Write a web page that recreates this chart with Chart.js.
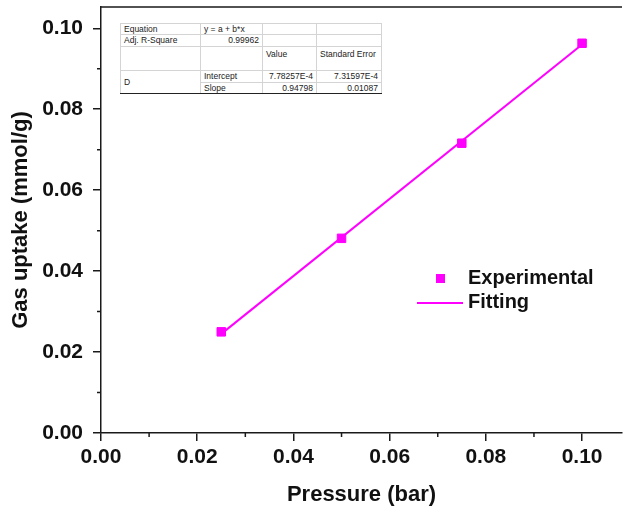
<!DOCTYPE html>
<html>
<head>
<meta charset="utf-8">
<script src="https://cdn.jsdelivr.net/npm/chart.js@4/dist/chart.umd.min.js"></script>
<style>
  html, body { margin: 0; padding: 0; background: #fff; }
  #wrap { position: relative; width: 624px; height: 514px; }
  #fit-table {
    position: absolute; left: 120px; top: 23px; width: 261px;
    table-layout: fixed; border-collapse: collapse;
    font-family: Arial, "Liberation Sans", sans-serif;
    font-size: 8.5px; color: #222; background: #fff;
  }
  #fit-table td {
    border: 1px solid #d4d4d4; padding: 0 3px; line-height: 10px;
    vertical-align: top; white-space: nowrap; overflow: visible;
  }
  #fit-table tr.last td { border-bottom: 1.5px solid #222; }
  #fit-table td.num { text-align: right; }
</style>
</head>
<body>
<div id="wrap">
  <canvas id="chart" width="624" height="514"></canvas>
  <table id="fit-table">
    <colgroup><col style="width:80px"><col style="width:62px"><col style="width:54px"><col style="width:65px"></colgroup>
    <tr style="height:11px"><td>Equation</td><td>y = a + b*x</td><td></td><td></td></tr>
    <tr style="height:12px"><td>Adj. R-Square</td><td class="num">0.99962</td><td></td><td></td></tr>
    <tr style="height:24px"><td></td><td></td><td style="padding-top:2px">Value</td><td style="padding-top:2px">Standard Error</td></tr>
    <tr style="height:12px"><td rowspan="2" style="vertical-align:middle;border-bottom:1.5px solid #222">D</td><td>Intercept</td><td class="num">7.78257E-4</td><td class="num">7.31597E-4</td></tr>
    <tr class="last" style="height:11px"><td>Slope</td><td class="num">0.94798</td><td class="num">0.01087</td></tr>
  </table>
</div>
<script>
// Values
const pressure = [0.025, 0.050, 0.075, 0.100];
const uptake = [0.0250, 0.0481, 0.0716, 0.0963];
const fitPressure = [0.025, 0.100];
const fitUptake = [0.0245, 0.0960];

const xTicks = [0, 0.02, 0.04, 0.06, 0.08, 0.10];
const yTicks = [0, 0.02, 0.04, 0.06, 0.08, 0.10];
const xMinor = [0.01, 0.03, 0.05, 0.07, 0.09];
const yMinor = [0.01, 0.03, 0.05, 0.07, 0.09];

const seriesNames = ['Experimental', 'Fitting'];
const magenta = '#ff00ff';
const axisColor = '#1a1a1a';
const fontFamily = 'Arial, "Liberation Sans", sans-serif';

// Minor ticks, top frame and the legend
const extras = {
    id: 'extras',
    afterDraw(chart) {
        const ctx = chart.ctx;
        const area = chart.chartArea;
        const xs = chart.scales.x;
        const ys = chart.scales.y;
        ctx.save();
        ctx.strokeStyle = axisColor;
        ctx.lineWidth = 1.5;
        ctx.beginPath();
        xMinor.forEach(v => {
            const px = xs.getPixelForValue(v);
            ctx.moveTo(px, area.bottom);
            ctx.lineTo(px, area.bottom + 4);
        });
        yMinor.forEach(v => {
            const py = ys.getPixelForValue(v);
            ctx.moveTo(area.left - 4, py);
            ctx.lineTo(area.left, py);
        });
        // top frame
        ctx.moveTo(area.left, area.top);
        ctx.lineTo(area.right, area.top);
        ctx.stroke();

        // legend
        ctx.fillStyle = magenta;
        ctx.fillRect(436, 274, 9, 9);
        ctx.strokeStyle = magenta;
        ctx.lineWidth = 2;
        ctx.beginPath();
        ctx.moveTo(417, 303);
        ctx.lineTo(463, 303);
        ctx.stroke();
        ctx.fillStyle = '#111';
        ctx.font = 'bold 20px ' + fontFamily;
        ctx.textBaseline = 'middle';
        ctx.fillText(seriesNames[0], 468, 278);
        ctx.fillText(seriesNames[1], 468, 302);
        ctx.restore();
    }
};

const tickFont = { family: fontFamily, size: 21, weight: 'bold' };
const titleFont = { family: fontFamily, size: 22, weight: 'bold' };

function noPad(s) {
    s.paddingTop = 0;
    s.paddingBottom = 0;
    s.paddingLeft = 0;
    s.paddingRight = 0;
}

new Chart(document.getElementById('chart'), {
    type: 'scatter',
    data: {
        datasets: [
            {
                label: seriesNames[0],
                data: pressure.map((p, i) => ({ x: p, y: uptake[i] })),
                backgroundColor: magenta,
                borderColor: magenta,
                pointStyle: 'rect',
                pointRadius: 6,
                order: 1
            },
            {
                label: seriesNames[1],
                data: fitPressure.map((p, i) => ({ x: p, y: fitUptake[i] })),
                borderColor: magenta,
                backgroundColor: magenta,
                showLine: true,
                borderWidth: 2,
                pointRadius: 0,
                order: 2
            }
        ]
    },
    options: {
        responsive: false,
        animation: false,
        layout: { autoPadding: false, padding: { top: 7, right: 2, left: 0, bottom: 0 } },
        plugins: {
            legend: { display: false },
            tooltip: { enabled: false }
        },
        scales: {
            x: {
                type: 'linear',
                min: 0,
                max: 0.1083,
                afterBuildTicks: s => { s.ticks = xTicks.map(v => ({ value: v })); },
                afterFit: s => { s.height = 81; noPad(s); },
                ticks: {
                    font: tickFont, color: '#111', padding: 4, maxRotation: 0,
                    callback: v => v.toFixed(2)
                },
                grid: { drawOnChartArea: false, drawTicks: true, tickLength: 8, color: axisColor, lineWidth: 1.5 },
                border: { display: true, color: axisColor, width: 1.5 },
                title: { display: true, text: 'Pressure (bar)', font: titleFont, color: '#111', padding: { top: 0, bottom: 6 } }
            },
            y: {
                type: 'linear',
                min: 0,
                max: 0.10526,
                afterBuildTicks: s => { s.ticks = yTicks.map(v => ({ value: v })); },
                afterFit: s => { s.width = 101; noPad(s); },
                ticks: {
                    font: tickFont, color: '#111', padding: 10,
                    callback: v => v.toFixed(2)
                },
                grid: { drawOnChartArea: false, drawTicks: true, tickLength: 8, color: axisColor, lineWidth: 1.5 },
                border: { display: true, color: axisColor, width: 1.5 },
                title: { display: true, text: 'Gas uptake (mmol/g)', font: titleFont, color: '#111', padding: { top: 8, bottom: 0 } }
            }
        }
    },
    plugins: [extras]
});
</script>
</body>
</html>
